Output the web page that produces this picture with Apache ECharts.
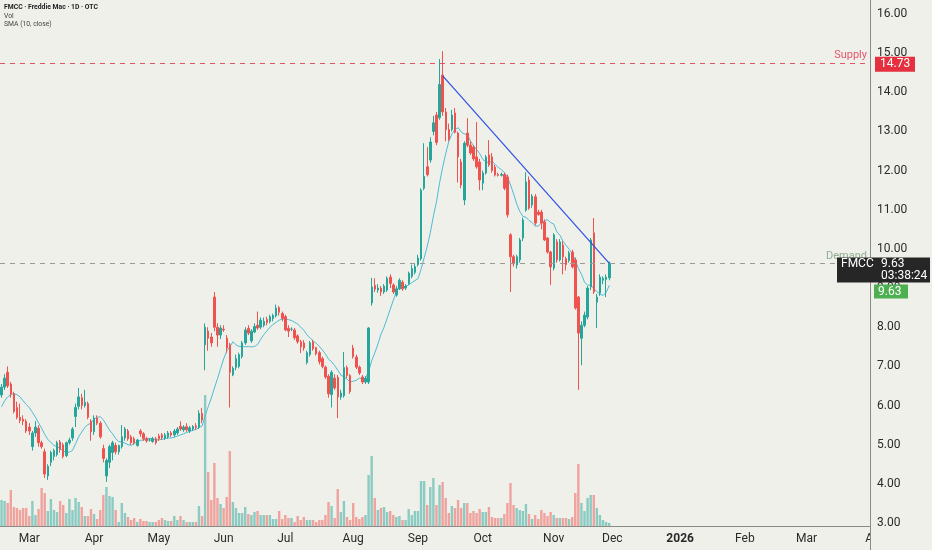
<!DOCTYPE html>
<html><head><meta charset="utf-8">
<script src="https://cdn.jsdelivr.net/npm/echarts@6/dist/echarts.min.js"></script>
<style>html,body{margin:0;padding:0;background:#f0f0eb;}#c{width:932px;height:550px;}</style>
</head><body><div id="c"></div>
<script>
// ---- calendar (trading days, used for category labels) ----
const startDate = '2025-02-18';
const holidays = ['2025-04-18','2025-05-26','2025-06-19','2025-07-04','2025-09-01','2025-11-27','2025-12-25','2026-01-01'];
const priceSlots = 282;   // slots visible left of the price scale
const totalSlots = 284;   // slots incl. the one under the price scale (Apr label)
const monthNames = ['Jan','Feb','Mar','Apr','May','Jun','Jul','Aug','Sep','Oct','Nov','Dec'];

// ---- OHLC ----
const opens = [6.27,6.47,6.85,6.55,6.3,5.95,5.7,5.65,5.6,5.45,4.95,5.3,5.42,5.05,4.82,4.2,4.55,4.7,4.75,5.07,
5.0,4.72,5.05,5.17,5.72,5.98,6.2,6.0,6.05,5.6,5.33,5.68,5.55,4.9,4.2,4.55,4.8,4.98,4.82,4.95,
5.17,5.35,5.2,5.15,4.98,5.35,5.28,5.15,5.12,5.08,5.15,5.22,5.25,5.17,5.2,5.3,5.25,5.3,5.47,5.38,
5.46,5.35,5.4,5.48,5.45,5.8,7.55,7.9,7.75,8.77,8.0,7.8,7.95,7.72,7.55,6.78,6.98,7.0,7.25,7.6,
7.97,7.65,7.88,8.05,8.0,8.05,8.2,8.15,8.22,8.29,8.5,8.35,8.27,7.97,7.95,7.93,7.78,7.63,7.6,7.1,
7.3,7.62,7.48,7.35,7.2,6.98,6.75,6.28,6.7,6.72,6.22,6.25,6.97,6.77,7.47,7.24,6.98,6.73,6.6,6.6,
8.62,9.07,8.95,9.0,8.9,8.95,9.28,9.08,8.82,8.98,9.15,9.0,9.12,9.3,9.4,9.6,9.75,11.55,12.1,12.27,
13.0,13.42,13.35,14.44,13.5,13.05,13.05,13.47,12.96,12.22,11.25,12.96,12.65,12.6,12.35,12.22,11.68,11.94,12.4,12.35,
12.09,11.9,11.88,11.9,11.84,10.36,9.8,9.59,9.72,10.28,10.99,11.76,11.12,11.33,10.94,10.94,10.69,10.28,9.92,9.51,
10.18,9.72,10.1,9.75,9.7,9.92,9.72,8.77,7.72,8.05,8.26,9.03,10.41,8.64,8.87,9.2,9.22,9.26];
const highs = [6.55,6.8,7.0,6.6,6.35,6.1,6.05,5.75,5.65,5.55,5.35,5.6,5.5,5.1,4.9,4.5,4.85,4.9,5.1,5.12,
5.05,5.08,5.18,5.45,6.05,6.45,6.3,6.4,6.1,5.65,5.75,5.75,5.6,5.0,4.65,5.0,5.1,5.05,5.0,5.5,
5.45,5.4,5.25,5.2,5.15,5.4,5.32,5.2,5.17,5.2,5.2,5.28,5.3,5.3,5.35,5.35,5.4,5.45,5.6,5.5,
5.55,5.48,5.5,5.55,5.88,5.94,8.1,8.0,7.85,8.9,8.1,8.05,8.05,7.8,7.6,7.0,7.3,7.35,7.65,8.0,
8.05,7.95,8.1,8.4,8.25,8.25,8.27,8.32,8.35,8.58,8.55,8.4,8.32,8.05,8.0,7.98,7.82,7.68,7.67,7.4,
7.65,7.68,7.5,7.4,7.25,7.02,6.8,6.9,6.8,6.78,6.4,7.37,7.02,6.8,7.55,7.3,7.02,6.78,6.75,8.0,
9.26,9.25,9.1,9.05,9.1,9.3,9.35,9.12,9.05,9.25,9.2,9.1,9.42,9.6,9.62,9.85,11.55,12.7,12.6,12.85,
13.4,13.5,14.85,15.05,13.6,13.2,13.55,13.6,13.0,12.3,12.75,13.34,12.75,12.65,13.24,12.3,12.0,12.4,12.78,12.45,
12.15,11.95,11.95,11.95,11.9,10.4,9.85,9.85,10.28,10.8,11.96,11.85,11.4,11.4,11.0,11.0,10.75,10.3,9.95,10.4,
10.25,10.25,10.2,9.8,9.95,9.98,9.78,8.8,8.15,8.4,9.05,10.28,10.79,8.85,9.35,9.3,9.35,9.68];
const lows = [6.2,6.4,6.45,6.2,5.8,5.65,5.55,5.5,5.3,5.25,4.85,5.2,4.95,4.9,4.15,4.1,4.45,4.6,4.7,4.8,
4.65,4.68,5.0,5.1,5.45,5.9,5.9,5.95,5.65,5.1,5.25,5.5,5.15,4.55,4.05,4.4,4.6,4.75,4.75,4.9,
5.1,5.1,5.0,5.0,4.95,5.2,5.1,5.05,5.08,5.05,5.0,5.1,5.12,5.12,5.15,5.2,5.2,5.25,5.35,5.33,
5.33,5.3,5.35,5.38,5.4,5.55,6.9,7.4,7.5,7.9,7.5,7.7,7.88,7.35,5.95,6.75,6.9,6.95,7.2,7.55,
7.8,7.6,7.85,7.93,7.95,8.0,8.05,8.1,8.15,8.25,8.3,8.15,7.9,7.75,7.9,7.68,7.58,7.34,7.4,7.05,
7.25,7.4,7.28,7.05,6.95,6.68,6.2,5.95,6.4,5.68,6.15,6.2,6.7,6.3,7.2,6.93,6.78,6.55,6.55,6.55,
8.55,8.9,8.88,8.8,8.85,8.9,9.0,8.85,8.78,8.95,8.93,8.95,9.08,9.25,9.35,9.55,9.7,11.5,11.85,12.2,
12.9,12.65,13.3,13.4,12.75,12.75,13.0,12.95,11.7,11.55,11.12,12.6,12.4,12.25,12.05,11.5,11.5,11.9,12.1,11.95,
11.85,11.85,11.85,11.5,10.8,8.9,9.55,9.5,9.65,10.2,10.95,11.0,11.05,10.6,10.85,10.5,10.2,9.88,9.08,9.45,
9.65,9.68,9.35,9.45,9.65,9.5,8.45,6.4,7.03,8.0,8.2,8.95,8.85,7.98,8.8,9.1,8.77,9.2];
const closes = [6.47,6.7,6.5,6.3,5.85,5.7,5.62,5.6,5.35,5.35,5.3,5.45,5.05,4.95,4.25,4.45,4.8,4.85,5.05,4.88,
4.7,5.05,5.12,5.4,5.95,6.22,6.0,6.08,5.7,5.33,5.68,5.55,5.2,4.65,4.6,4.95,5.05,4.82,4.98,5.2,
5.4,5.15,5.05,5.05,5.12,5.28,5.15,5.1,5.12,5.15,5.05,5.15,5.18,5.25,5.3,5.25,5.35,5.4,5.4,5.45,
5.38,5.43,5.47,5.44,5.8,5.63,8.0,7.72,7.6,8.0,7.8,7.98,7.93,7.47,6.85,6.95,7.2,7.3,7.6,7.93,
7.85,7.9,8.02,7.98,8.18,8.15,8.12,8.27,8.3,8.49,8.38,8.22,7.93,7.9,7.95,7.73,7.63,7.5,7.47,7.35,
7.6,7.45,7.32,7.12,7.0,6.73,6.3,6.85,6.45,6.22,6.32,6.97,6.77,6.36,7.25,6.98,6.83,6.6,6.7,7.98,
9.03,8.97,9.0,8.9,9.05,9.25,9.12,8.9,8.98,9.2,8.98,9.05,9.38,9.5,9.55,9.77,11.5,11.85,11.9,12.73,
13.22,12.72,14.2,13.5,13.05,12.8,13.42,12.98,12.35,11.63,12.7,12.65,12.45,12.3,12.1,11.76,11.94,12.35,12.15,12.0,
11.89,11.88,11.9,11.55,10.87,9.8,9.62,9.8,10.23,10.74,11.71,11.04,11.35,10.66,10.88,10.66,10.23,9.92,9.54,10.36,
9.72,10.18,9.8,9.6,9.9,9.54,8.49,7.85,8.05,8.31,9.0,10.23,8.9,8.77,9.28,9.25,9.28,9.63];
// volume (millions, relative heights)
const volumes = [26,25,23,36,19,18,16,18,18,10,25,11,17,38,33,15,27,16,14,25,
21,13,27,16,28,24,19,10,10,17,12,7,16,31,39,30,29,16,4,23,
13,9,6,8,4,7,5,5,4,4,4,6,8,6,5,5,10,6,10,6,
4,4,4,4,20,10,131,54,26,63,28,22,18,29,75,24,18,13,13,19,
12,11,14,15,11,11,11,11,7,7,15,7,11,8,8,4,10,6,9,6,
6,6,4,6,6,11,24,20,8,37,14,25,9,6,23,9,7,9,11,51,
70,28,16,18,19,14,15,11,9,10,6,6,17,11,15,15,45,45,21,39,
48,21,41,44,28,13,20,18,26,18,23,23,13,15,13,17,14,14,19,9,
8,8,8,12,23,43,21,18,16,15,22,12,7,11,7,16,13,10,14,11,
8,8,8,8,7,9,33,62,23,15,28,31,31,18,11,6,4,3];
// SMA values before a full 10-bar window exists
const smaLead = [5.97,6.12,6.22,6.28,6.3,6.28,6.22,6.12,6.03];
const smaPeriod = 10;

// ---- levels / annotations ----
const supplyLevel = 14.73;
const demandLevel = 9.63;
const lastPrice = 9.63;
const trendStart = [143, 14.42];
const trendEnd = [197, 9.63];
const priceMin = 3, priceMax = 16, priceInterval = 1;
const titleLines = ['FMCC · Freddie Mac · 1D · OTC', 'Vol', 'SMA (10, close)'];
const countdown = '03:38:24';

// ---- build categories ----
const dates = [];
(function(){
  const d = new Date(startDate + 'T00:00:00Z');
  while (dates.length < totalSlots) {
    const wd = d.getUTCDay();
    const s = d.toISOString().slice(0,10);
    if (wd !== 0 && wd !== 6 && holidays.indexOf(s) < 0) dates.push(s);
    d.setUTCDate(d.getUTCDate() + 1);
  }
})();
const labels = dates.map((s, i) => {
  if (i === 0) return '';
  if (s.slice(0,7) === dates[i-1].slice(0,7)) return '';
  const m = +s.slice(5,7);
  return m === 1 ? '{y|' + s.slice(0,4) + '}' : monthNames[m-1];
});
const priceDates = dates.slice(0, priceSlots);

const UP = '#26a69a', DOWN = '#ef5350';
const candles = opens.map((o, i) => [o, closes[i], lows[i], highs[i]]);
const volData = volumes.map((v, i) => ({
  value: v,
  itemStyle: { color: closes[i] >= opens[i] ? 'rgba(38,166,154,0.5)' : 'rgba(239,83,80,0.5)' }
}));
const sma = closes.map((c, i) => {
  if (i < smaPeriod - 1) return smaLead[i];
  let s = 0; for (let k = i - smaPeriod + 1; k <= i; k++) s += closes[k];
  return +(s / smaPeriod).toFixed(3);
});

const W = 932, axisW = 62;
const plotW = W - axisW;
const slotW = plotW / priceSlots;
const volRight = Math.round(W - slotW * totalSlots);

const chart = echarts.init(document.getElementById('c'));
const fontFam = 'Roboto, "Noto Sans", sans-serif';
chart.setOption({
  animation: false,
  backgroundColor: '#f0f0eb',
  textStyle: { fontFamily: fontFam },
  grid: [
    { left: 0, right: axisW, top: 14, bottom: 27 },
    { left: 0, right: volRight, top: 380, bottom: 24 }
  ],
  xAxis: [
    { type: 'category', gridIndex: 0, data: priceDates, boundaryGap: true, show: false },
    { type: 'category', gridIndex: 1, data: dates, boundaryGap: true,
      axisLine: { show: false },
      axisTick: { show: false },
      axisLabel: {
        interval: (idx) => labels[idx] !== '',
        formatter: (v, idx) => labels[idx],
        color: '#2a2a2a', fontSize: 12, margin: 7, fontFamily: fontFam,
        rich: { y: { fontWeight: 'bold', fontSize: 12, color: '#2a2a2a', fontFamily: fontFam } }
      },
      splitLine: { show: false }
    }
  ],
  yAxis: [
    { type: 'value', gridIndex: 0, position: 'right', min: priceMin, max: priceMax, interval: priceInterval,
      axisLine: { show: false }, axisTick: { show: false }, splitLine: { show: false },
      axisLabel: { formatter: v => v.toFixed(2), color: '#2a2a2a', fontSize: 12, margin: 7, align: 'left', fontFamily: fontFam } },
    { type: 'value', gridIndex: 1, min: 0, max: 146, show: false, splitLine: { show: false } }
  ],
  series: [
    { type: 'bar', xAxisIndex: 1, yAxisIndex: 1, data: volData, barWidth: 2.4, z: 1 },
    { type: 'line', xAxisIndex: 0, yAxisIndex: 0, data: sma, symbol: 'none', smooth: false,
      lineStyle: { color: '#4cbcd4', width: 1 }, z: 3 },
    { type: 'candlestick', xAxisIndex: 0, yAxisIndex: 0, data: candles, barWidth: 2, z: 4,
      itemStyle: { color: UP, color0: DOWN, borderColor: UP, borderColor0: DOWN, borderWidth: 1 },
      markLine: {
        symbol: ['none', 'none'], silent: true, animation: false,
        data: [
          { yAxis: supplyLevel, lineStyle: { color: '#e3566a', type: [5, 5], width: 1 },
            label: { show: true, position: 'insideEndTop', formatter: 'Supply', color: '#e3566a', fontSize: 11, distance: [3, 3] } },
          { yAxis: demandLevel, lineStyle: { color: '#9a9a96', type: [5, 5], width: 1 },
            label: { show: true, position: 'insideEndTop', formatter: 'Demand', color: '#93ad93', fontSize: 11, distance: [3, 2] } },
          [
            { coord: [priceDates[trendStart[0]], trendStart[1]], lineStyle: { color: '#2e4fe6', type: 'solid', width: 1.2 }, label: { show: false } },
            { coord: [priceDates[trendEnd[0]], trendEnd[1]] }
          ]
        ]
      }
    }
  ]
});

// ---- overlays positioned through the axes ----
const ySup = chart.convertToPixel({ yAxisIndex: 0 }, supplyLevel);
const yLast = chart.convertToPixel({ yAxisIndex: 0 }, lastPrice);
const axisX = plotW;
const yBase = 550 - 24;
const tf = fontFam;
chart.setOption({
  graphic: [
    { type: 'text', left: 4, top: 4, z: 100, style: { text: titleLines[0], fill: '#222', font: 'bold 6.8px ' + tf } },
    { type: 'text', left: 4, top: 12.5, z: 100, style: { text: titleLines[1], fill: '#444', font: '6.8px ' + tf } },
    { type: 'text', left: 4, top: 21, z: 100, style: { text: titleLines[2], fill: '#444', font: '6.8px ' + tf } },
    { type: 'rect', z: 99, shape: { x: axisX + 1, y: yBase, width: axisW, height: 550 - yBase }, style: { fill: '#f0f0eb' } },
    { type: 'line', z: 100, shape: { x1: 0, y1: yBase + 0.5, x2: axisX, y2: yBase + 0.5 }, style: { stroke: '#8a8a86', lineWidth: 1 } },
    { type: 'line', z: 100, shape: { x1: axisX + 0.5, y1: 0, x2: axisX + 0.5, y2: 550 }, style: { stroke: '#8a8a86', lineWidth: 1 } },
    { type: 'rect', z: 100, shape: { x: axisX + 5, y: ySup - 7, width: 40, height: 15 }, style: { fill: '#e5313f' } },
    { type: 'text', z: 101, x: axisX + 10, y: ySup + 0.5, style: { text: supplyLevel.toFixed(2), fill: '#fff', font: '12px ' + tf, verticalAlign: 'middle' } },
    { type: 'rect', z: 100, shape: { x: axisX - 33, y: yLast - 6, width: 93, height: 25 }, style: { fill: '#262626' } },
    { type: 'text', z: 101, x: axisX - 29, y: yLast + 1, style: { text: 'FMCC', fill: '#fff', font: '12px ' + tf, verticalAlign: 'middle' } },
    { type: 'text', z: 101, x: axisX + 11, y: yLast + 1, style: { text: lastPrice.toFixed(2), fill: '#fff', font: '12px ' + tf, verticalAlign: 'middle' } },
    { type: 'text', z: 101, x: axisX + 11, y: yLast + 13, style: { text: countdown, fill: '#fff', font: '12px ' + tf, verticalAlign: 'middle' } },
    { type: 'rect', z: 100, shape: { x: axisX + 4, y: yLast + 21, width: 34, height: 14 }, style: { fill: '#4caf50' } },
    { type: 'text', z: 101, x: axisX + 8, y: yLast + 28.5, style: { text: lastPrice.toFixed(2), fill: '#fff', font: '12px ' + tf, verticalAlign: 'middle' } }
  ]
});
</script></body></html>
